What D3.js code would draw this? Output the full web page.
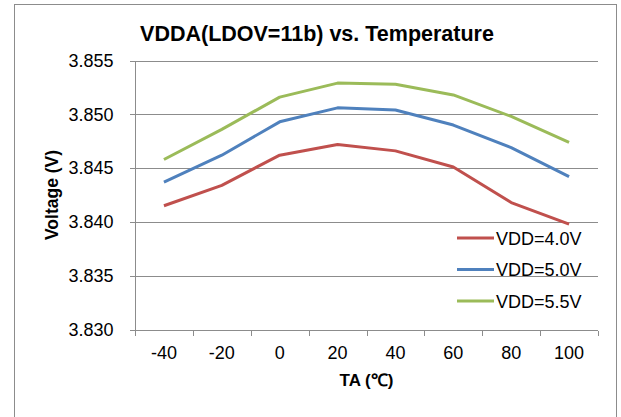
<!DOCTYPE html>
<html>
<head>
    <meta charset="utf-8">
    <title>VDDA vs. Temperature</title>
    <script src="https://d3js.org/d3.v7.min.js"></script>
    <style>
        body { margin: 0; background: #fff; }
        svg { display: block; font-family: "Liberation Sans", Arial, sans-serif; }
        .grid line { stroke: #8c8c8c; stroke-width: 1; shape-rendering: crispEdges; }
        .axis path, .axis line { stroke: #8c8c8c; shape-rendering: crispEdges; }
        .axis text { font-size: 18px; fill: #000; font-family: "Liberation Sans", Arial, sans-serif; }
        .series { fill: none; stroke-width: 3; stroke-linejoin: round; }
    </style>
</head>
<body>
    <svg width="621" height="417"></svg>
    <script>
        // 温度（横轴类别）
        const temps = [-40, -20, 0, 20, 40, 60, 80, 100];
        // 三条曲线的电压值
        const vdd40 = [3.8415, 3.8434, 3.8462, 3.8472, 3.8466, 3.8451, 3.8418, 3.8398];
        const vdd50 = [3.8437, 3.8462, 3.8493, 3.8506, 3.8504, 3.8490, 3.8469, 3.8442];
        const vdd55 = [3.8458, 3.8486, 3.8516, 3.8529, 3.8528, 3.8518, 3.8498, 3.8474];
        const seriesNames = ["VDD=4.0V", "VDD=5.0V", "VDD=5.5V"];
        const seriesColors = ["#C0504D", "#4F81BD", "#9BBB59"];
        const yTicks = [3.830, 3.835, 3.840, 3.845, 3.850, 3.855];

        const svg = d3.select("svg");

        // 外框
        svg.append("rect")
            .attr("x", 14.5).attr("y", 4.5)
            .attr("width", 602).attr("height", 500)
            .attr("fill", "none").attr("stroke", "#8c8c8c");

        const plotL = 135, plotR = 598, plotT = 60.5, plotB = 329.5;

        const x = d3.scaleBand().domain(temps).range([plotL, plotR]);
        const y = d3.scaleLinear().domain([3.830, 3.855]).range([plotB, plotT]);

        // 网格线
        svg.append("g").attr("class", "grid")
            .selectAll("line")
            .data(yTicks.slice(1))
            .enter().append("line")
            .attr("x1", plotL).attr("x2", plotR)
            .attr("y1", d => Math.round(y(d)) + 0.5)
            .attr("y2", d => Math.round(y(d)) + 0.5);

        // 纵轴
        const yAxis = svg.append("g").attr("class", "axis")
            .attr("transform", `translate(${plotL + 0.5},0)`)
            .call(d3.axisLeft(y).tickValues(yTicks).tickFormat(d3.format(".3f")).tickSize(6).tickSizeOuter(0).tickPadding(16));
        yAxis.select(".domain").attr("d", `M0,${y(3.855)}V${y(3.830)}`);

        // 横轴（刻度在类别之间）
        const xAxisG = svg.append("g").attr("class", "axis")
            .attr("transform", `translate(0,${Math.round(plotB) + 0.5})`);
        xAxisG.append("line").attr("x1", plotL).attr("x2", plotR).attr("y1", 0).attr("y2", 0);
        xAxisG.selectAll("line.tick")
            .data(d3.range(temps.length + 1))
            .enter().append("line").attr("class", "tick")
            .attr("x1", i => Math.round(plotL + i * x.step()) + 0.5)
            .attr("x2", i => Math.round(plotL + i * x.step()) + 0.5)
            .attr("y1", 0).attr("y2", 5);
        xAxisG.selectAll("text")
            .data(temps)
            .enter().append("text")
            .attr("x", d => x(d) + x.bandwidth() / 2)
            .attr("y", 28)
            .attr("text-anchor", "middle")
            .text(d => d);

        // 曲线
        const line = d3.line()
            .x((d, i) => x(temps[i]) + x.bandwidth() / 2)
            .y(d => y(d));
        [vdd40, vdd50, vdd55].forEach((vals, i) => {
            svg.append("path")
                .datum(vals)
                .attr("class", "series")
                .attr("stroke", seriesColors[i])
                .attr("d", line);
        });

        // 图例
        const legend = svg.append("g").attr("transform", "translate(457,238)");
        seriesNames.forEach((name, i) => {
            const row = legend.append("g").attr("transform", `translate(0,${i * 31.5})`);
            row.append("line").attr("x1", 0).attr("x2", 37).attr("y1", 0).attr("y2", 0)
                .attr("stroke", seriesColors[i]).attr("stroke-width", 3);
            row.append("text").attr("x", 39).attr("y", 6.5)
                .style("font-size", "18px").text(name);
        });

        // 标题
        svg.append("text")
            .attr("x", 317).attr("y", 41)
            .attr("text-anchor", "middle")
            .style("font-size", "21.5px").style("font-weight", "bold")
            .text("VDDA(LDOV=11b) vs. Temperature");

        // 坐标轴标题
        svg.append("text")
            .attr("x", (plotL + plotR) / 2).attr("y", 386)
            .attr("text-anchor", "middle")
            .style("font-size", "17px").style("font-weight", "bold")
            .text("TA (℃)");
        svg.append("text")
            .attr("transform", `translate(58,${(plotT + plotB) / 2}) rotate(-90)`)
            .attr("text-anchor", "middle")
            .style("font-size", "17.5px").style("font-weight", "bold")
            .text("Voltage (V)");
    </script>
</body>
</html>
